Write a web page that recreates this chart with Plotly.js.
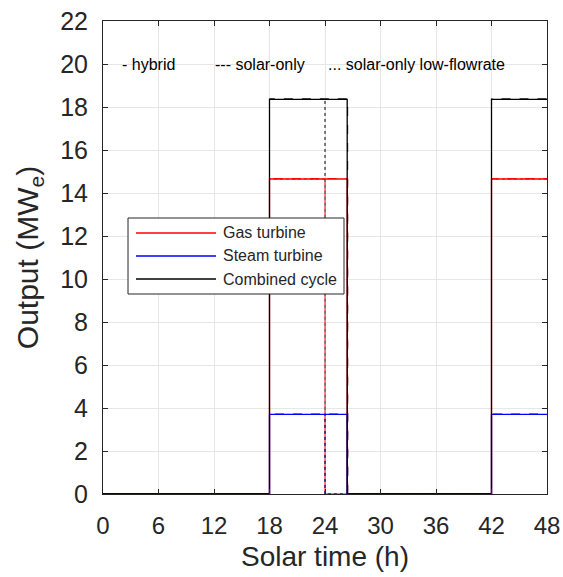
<!DOCTYPE html>
<html><head><meta charset="utf-8">
<script src="https://cdn.plot.ly/plotly-3.0.1.min.js"></script>
<style>body{margin:0;background:#fff}#c{width:563px;height:577px}</style>
</head><body><div id="c"></div>
<script>
// hybrid (solid)
const xHybrid = [0, 18, 18, 26.4, 26.4, 42, 42, 48];
const gasHybrid = [0, 0, 14.65, 14.65, 0, 0, 14.65, 14.65];
const steamHybrid = [0, 0, 3.7, 3.7, 0, 0, 3.7, 3.7];
const ccHybrid = [0, 0, 18.35, 18.35, 0, 0, 18.35, 18.35];
// solar-only (dashed)
const xSolar = [0, 18, 18, 26.45, 26.45, 42, 42, 48];
const gasSolar = [0, 0, 14.67, 14.67, 0, 0, 14.67, 14.67];
const steamSolar = [0, 0, 3.72, 3.72, 0, 0, 3.72, 3.72];
const ccSolar = [0, 0, 18.38, 18.38, 0, 0, 18.38, 18.38];
// solar-only low-flowrate (dotted)
const xLow = [0, 18, 18, 24, 24, 42, 42, 48];
const gasLow = [0, 0, 14.65, 14.65, 0, 0, 14.65, 14.65];
const steamLow = [0, 0, 3.7, 3.7, 0, 0, 3.7, 3.7];
const ccLow = [0, 0, 18.35, 18.35, 0, 0, 18.35, 18.35];

const seriesNames = ['Gas turbine', 'Steam turbine', 'Combined cycle'];
const colors = ['#ff0000', '#0000ff', '#000000'];
const xTicks = [0, 6, 12, 18, 24, 30, 36, 42, 48];
const yTicks = [0, 2, 4, 6, 8, 10, 12, 14, 16, 18, 20, 22];
const notes = ['- hybrid', '--- solar-only', '... solar-only low-flowrate'];
const noteX = [1.85, 11.9, 24.1];
const noteY = 20;

const FONT = 'Liberation Sans, Arial, sans-serif';
const traces = [];
const sets = [
  {x: xLow, ys: [gasLow, steamLow, ccLow], dash: 'dot', w: 1},
  {x: xSolar, ys: [gasSolar, steamSolar, ccSolar], dash: 'dash', w: 1},
  {x: xHybrid, ys: [gasHybrid, steamHybrid, ccHybrid], dash: 'solid', w: 1.3}
];
sets.forEach(s => {
  s.ys.forEach((y, i) => {
    traces.push({x: s.x, y: y, mode: 'lines', name: seriesNames[i],
      showlegend: false, line: {color: colors[i], width: s.w, dash: s.dash}});
  });
});

// legend box (drawn in paper coordinates)
const plotL = 103, plotR = 547, plotT = 21, plotB = 494;
const px = v => (v - plotL) / (plotR - plotL);
const py = v => (plotB - v) / (plotB - plotT);
const shapes = [{type: 'rect', xref: 'paper', yref: 'paper',
  x0: px(128), x1: px(344), y0: py(294), y1: py(218),
  line: {color: '#262626', width: 1}, fillcolor: '#ffffff', layer: 'above'}];
const annotations = notes.map((t, i) => ({x: noteX[i], y: noteY, xref: 'x', yref: 'y',
  text: t, showarrow: false, xanchor: 'left', yanchor: 'middle',
  font: {family: FONT, size: 16, color: '#000'}}));
const legY = [233, 256, 279];
seriesNames.forEach((n, i) => {
  shapes.push({type: 'line', xref: 'paper', yref: 'paper',
    x0: px(136), x1: px(216), y0: py(legY[i]), y1: py(legY[i]),
    line: {color: colors[i], width: 1.3}, layer: 'above'});
  annotations.push({xref: 'paper', yref: 'paper', x: px(221), y: py(legY[i]),
    text: n, showarrow: false, xanchor: 'left', yanchor: 'middle',
    font: {family: FONT, size: 16, color: '#262626'}});
});

const axisCommon = {
  showline: true, mirror: 'ticks', linecolor: '#262626', linewidth: 1,
  ticks: 'inside', ticklen: 5, tickcolor: '#262626',
  showgrid: true, gridcolor: '#e6e6e6', gridwidth: 1, zeroline: false,
  automargin: false
};

const layout = {
  width: 563, height: 577,
  margin: {l: plotL, r: 563 - plotR, t: plotT, b: 577 - plotB},
  paper_bgcolor: '#fff', plot_bgcolor: '#fff',
  xaxis: Object.assign({}, axisCommon, {range: [0, 48], tickvals: xTicks,
    ticklabelstandoff: 10,
    tickfont: {family: FONT, size: 24, color: '#262626'},
    title: {text: 'Solar time (h)', font: {family: FONT, size: 28, color: '#262626'}, standoff: 8}}),
  yaxis: Object.assign({}, axisCommon, {range: [0, 22], tickvals: yTicks,
    ticklabelstandoff: 9,
    tickfont: {family: FONT, size: 25, color: '#262626'},
    title: {text: 'Output (MW<sub>e</sub>)', font: {family: FONT, size: 30, color: '#262626'}, standoff: 12}}),
  shapes: shapes,
  annotations: annotations,
  showlegend: false
};

Plotly.newPlot('c', traces, layout, {staticPlot: true, displayModeBar: false});
</script></body></html>
